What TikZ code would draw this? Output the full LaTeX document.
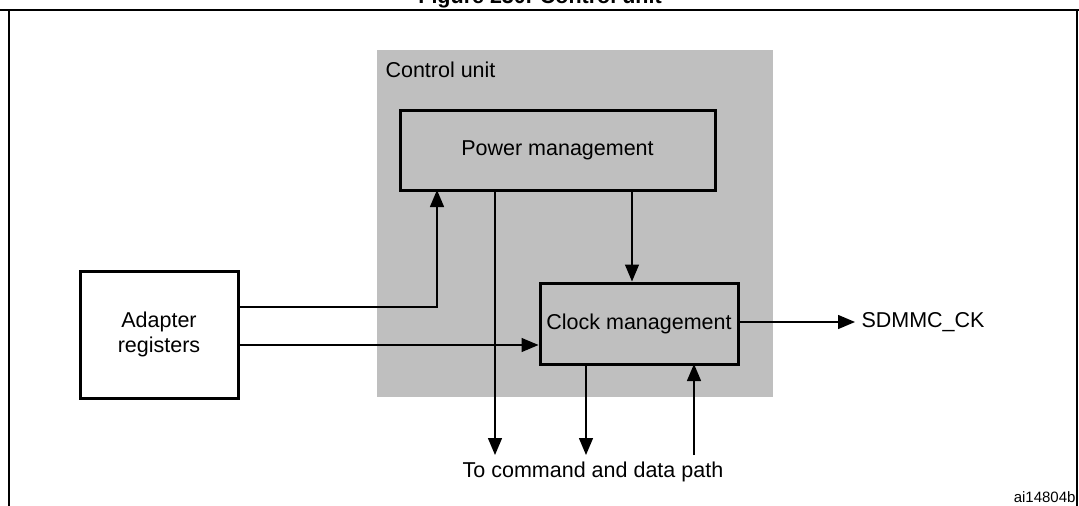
\documentclass[tikz,border=0pt]{standalone}
\usepackage{fontspec}
\setmainfont{Liberation Sans}
\usetikzlibrary{arrows.meta}
\begin{document}
\begin{tikzpicture}[x=1pt,y=-1pt,
  blk/.style={draw,line width=3pt,inner sep=0pt},
  lbl/.style={font=\fontsize{21.5}{25}\selectfont},
  arr/.style={line width=1.4pt,-{Triangle[length=17pt,width=14pt]}}]
\useasboundingbox (0,0) rectangle (1079,506);
\begin{scope}
\clip (0,0) rectangle (1079,9);
\node[font=\bfseries\fontsize{21.5}{25}\selectfont,anchor=base] (title) at (540,4) {Figure 230. Control unit};
\end{scope}
\draw[line width=1.8pt] (0,10) -- (1079,10);
\draw[line width=1.2pt] (9,10) -- (9,506) (1077,10) -- (1077,506);
\fill[gray!50] (377,50) rectangle (773,397);
\node[lbl,anchor=north west] (cu) at (382,58) {Control unit};
\node[blk,minimum width=315pt,minimum height=80pt,lbl] (pm) at (557.5,150) {Power management};
\node[blk,minimum width=198pt,minimum height=81pt,lbl] (cm) at (639,323.5) {Clock management};
\node[blk,fill=white,minimum width=158pt,minimum height=127pt,lbl,align=center] (ar) at (159,334.5) {Adapter\\registers};
\coordinate (o1) at (495,455);
\coordinate (o2) at (586,455);
\coordinate (i3) at (694,455);
\coordinate (sd) at (855,322);
\node[lbl,anchor=west] (sdt) at (858,322) {SDMMC\_CK};
\node[lbl] (to) at (593,472) {To command and data path};
\node[font=\fontsize{15}{18}\selectfont,anchor=east] (ai) at (1079,497) {ai14804b};
\draw[arr] (ar.east |- 0,307) -| (437,190);
\draw[arr] (ar.east |- 0,345) -- (cm.west |- 0,345);
\draw[arr] (495,190) -- (o1);
\draw[arr] (632,190) -- (cm.north -| 632,0);
\draw[arr] (586,364) -- (o2);
\draw[arr] (i3) -- (694,364);
\draw[arr] (cm.east |- sd) -- (sd);
\end{tikzpicture}
\end{document}
